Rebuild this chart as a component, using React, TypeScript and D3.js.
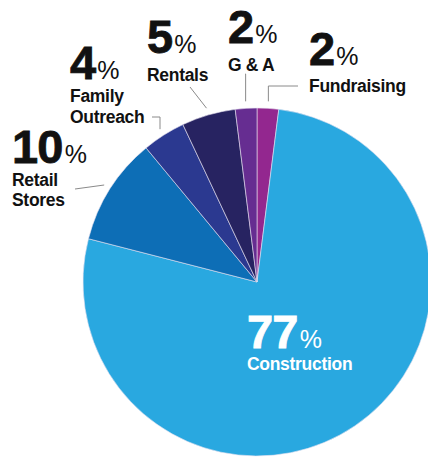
import * as d3 from 'd3';

// slice order clockwise from 12 o'clock
const categories = ['Fundraising', 'Construction', 'Retail Stores', 'Family Outreach', 'Rentals', 'G & A'];
const shares = [2, 77, 10, 4, 5, 2];
const sliceColors = ['#93278f', '#29a8e0', '#0d6eb6', '#2b3990', '#272361', '#662d91'];

// label text lines per category
const nameLines: Record<string, string[]> = {
  'Fundraising': ['Fundraising'],
  'Construction': ['Construction'],
  'Retail Stores': ['Retail', 'Stores'],
  'Family Outreach': ['Family', 'Outreach'],
  'Rentals': ['Rentals'],
  'G & A': ['G & A'],
};

// hand placed label layout (text anchor, line baselines, leader start)
const layout: Record<string, { x: number; pctY: number; lineY: number[]; lead?: [number, number]; elbow?: boolean; inside?: boolean }> = {
  'Retail Stores': { x: 12, pctY: 163, lineY: [186, 206], lead: [75, 189] },
  'Family Outreach': { x: 70, pctY: 79, lineY: [102, 123], lead: [152, 117], elbow: true },
  'Rentals': { x: 147, pctY: 53, lineY: [81], lead: [190, 87] },
  'G & A': { x: 228, pctY: 43, lineY: [71], lead: [245, 74], elbow: true },
  'Fundraising': { x: 309, pctY: 65, lineY: [92], lead: [298, 86], elbow: true },
  'Construction': { x: 247, pctY: 348, lineY: [370], inside: true },
};

const W = 428, H = 459;
const cx = 257, cy = 282, R = 174;
const FONT = '"Liberation Sans", Arial, Helvetica, sans-serif';

export default function App() {
  const data = categories.map((c, i) => ({ name: c, value: shares[i], color: sliceColors[i] }));
  const pie = d3.pie<typeof data[0]>().value(d => d.value).sort(null).startAngle(0).endAngle(2 * Math.PI);
  const arcs = pie(data);
  const arc = d3.arc<d3.PieArcDatum<typeof data[0]>>().innerRadius(0).outerRadius(R);

  return (
    <svg width={W} height={H} style={{ position: 'absolute', left: 0, top: 0, background: '#fff' }} fontFamily={FONT}>
      <g transform={`translate(${cx},${cy})`}>
        {arcs.map(a => (
          <path key={a.data.name} d={arc(a) || ''} fill={a.data.color} stroke="#e6e0f0" strokeWidth={0.6} />
        ))}
      </g>
      {arcs.map(a => {
        const L = layout[a.data.name];
        const mid = (a.startAngle + a.endAngle) / 2;
        const ex = cx + Math.sin(mid) * (R + 7);
        const ey = cy - Math.cos(mid) * (R + 7);
        const fill = L.inside ? '#fff' : '#111';
        let leader = null;
        if (L.lead) {
          const [sx, sy] = L.lead;
          const pts = L.elbow ? `${sx},${sy} ${ex},${sy} ${ex},${ey}` : `${sx},${sy} ${ex},${ey}`;
          leader = <polyline points={pts} fill="none" stroke="#8a8a8a" strokeWidth={1} />;
        }
        return (
          <g key={a.data.name}>
            {leader}
            <text x={L.x} y={L.pctY} fill={fill}>
              <tspan fontSize={47} fontWeight="bold" letterSpacing={-0.8} stroke={fill} strokeWidth={0.8}>{a.data.value}</tspan>
              <tspan fontSize={25} dx={2}>%</tspan>
            </text>
            {nameLines[a.data.name].map((ln, i) => (
              <text key={ln} x={L.x} y={L.lineY[i]} fill={fill} fontSize={17.5} fontWeight="bold" letterSpacing={-0.3}>{ln}</text>
            ))}
          </g>
        );
      })}
    </svg>
  );
}
